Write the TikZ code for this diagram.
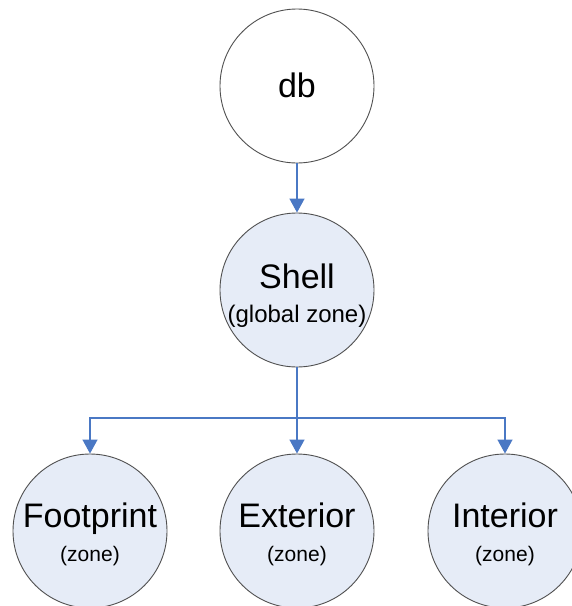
\documentclass[tikz,border=0pt]{standalone}
\usepackage{fontspec}
\setmainfont{Liberation Sans}
\usetikzlibrary{arrows.meta}
\definecolor{nodefill}{HTML}{E6ECF7}
\definecolor{edgeblue}{HTML}{4A78C4}
\definecolor{rimgray}{HTML}{505050}
\tikzset{
  circ/.style={circle, draw=rimgray, line width=0.9pt, minimum size=154pt, inner sep=0pt},
  big/.style={anchor=base, inner sep=0pt, font=\fontsize{34}{34}\selectfont},
  smallg/.style={anchor=base, inner sep=0pt, font=\fontsize{24}{24}\selectfont},
  smallz/.style={anchor=base, inner sep=0pt, font=\fontsize{21}{21}\selectfont},
  conn/.style={draw=edgeblue, line width=1.3pt},
  arr/.style={conn, -{Triangle[width=15pt,length=14pt]}, color=edgeblue}
}
\begin{document}
\begin{tikzpicture}[x=1pt,y=-1pt]
\useasboundingbox (0,0) rectangle (572,606);
\clip (0,0) rectangle (572,606);
\fill[white] (0,0) rectangle (572,606);
\node[circ, fill=white] (db) at (297,86) {};
\node[circ, fill=nodefill] (shell) at (297,290) {};
\node[circ, fill=nodefill] (foot) at (90,531) {};
\node[circ, fill=nodefill] (ext) at (297,531) {};
\node[circ, fill=nodefill] (int) at (505,531) {};
\node[big] (dbT) at (297,97) {db};
\node[big] (shellT) at (297,288) {Shell};
\node[smallg] (shellS) at (297,322) {(global zone)};
\node[big] (footT) at (90,527) {Footprint};
\node[smallz] (footS) at (90,561) {(zone)};
\node[big] (extT) at (297,527) {Exterior};
\node[smallz] (extS) at (297,561) {(zone)};
\node[big] (intT) at (505,527) {Interior};
\node[smallz] (intS) at (505,561) {(zone)};
\coordinate (J) at (297,418);
\draw[arr] (db.south) -- (shell.north);
\draw[conn] (shell.south) -- (J);
\draw[arr] (J) -| (foot.north);
\draw[arr] (J) -- (ext.north);
\draw[arr] (J) -| (int.north);
\end{tikzpicture}
\end{document}
